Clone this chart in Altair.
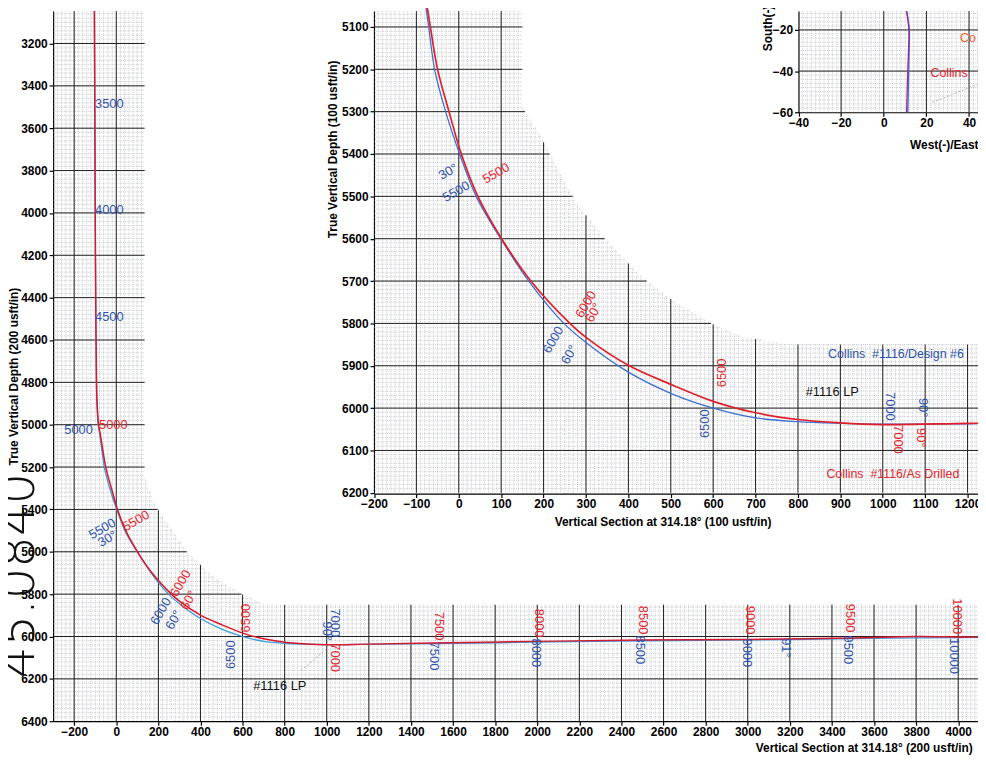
import altair as alt
import numpy as np
import pandas as pd

# ---------------- data ----------------
# well paths (vertical section, true vertical depth)
red_vs = [-104, -102, -100, -97, -94, -91, -84, -76, -67, -50, -23, 6, 45, 101, 170, 262, 300, 400, 505, 600,
          700, 800, 900, 1000, 1200, 1500, 2000, 2500, 3000, 3500, 3800, 4000, 4100]
red_tvd = [3047, 3500, 4000, 4500, 4800, 4900, 5000, 5044, 5100, 5200, 5300, 5400, 5500, 5600, 5700, 5800, 5833,
           5899, 5946, 5984, 6011, 6027, 6035, 6039, 6036, 6031, 6023, 6017, 6014, 6007, 6000, 6002, 6003]
blue_vs = [-104, -102, -100, -97, -94, -92, -86, -79, -71, -57, -31, 2, 41, 99, 165, 248, 300, 400, 500, 600,
           700, 800, 900, 1000, 1200, 1500, 2000, 2500, 3000, 3500, 4000, 4100]
blue_tvd = [3047, 3500, 4000, 4500, 4800, 4900, 5000, 5044, 5100, 5200, 5300, 5400, 5500, 5600, 5700, 5800, 5845,
            5915, 5965, 6000, 6023, 6032, 6036, 6038, 6037, 6034, 6027, 6020, 6017, 6010, 6005, 6004]

# plan view (east-west, north-south)
plan_red_ew = [10.6, 11.8, 11.6, 11.1, 10.7]
plan_red_ns = [-10.8, -20, -30, -45, -60]
plan_blue_ew = [10.8, 12.0, 11.9, 11.6, 11.3]
plan_blue_ns = [-10.8, -20, -30, -45, -60]

# main-chart labels
main_lab_text = ["3500", "4000", "4500", "5000", "5000", "5500", "30°", "5500", "6000", "60°", "6000", "60°",
                 "6500", "6500", "7000", "90°", "7000", "7500", "7500", "8000", "8000", "8500", "8500",
                 "9000", "9000", "91°", "9500", "9500", "10000", "10000"]
main_lab_vs = [-33, -33, -33, -179, -14, -66, -42, 94, 306, 344, 212, 273, 617, 547, 1040, 1000, 1040,
               1532, 1508, 2008, 1993, 2502, 2488, 3011, 2997, 3181, 3487, 3478, 3996, 3982]
main_lab_tvd = [3487, 3985, 4490, 5023, 5000, 5492, 5539, 5454, 5749, 5829, 5881, 5922, 5913, 6086, 5935, 5975,
                6100, 5951, 6092, 5937, 6077, 5923, 6063, 5923, 6077, 6054, 5913, 6063, 5904, 6092]
main_lab_col = ["b", "b", "b", "b", "r", "b", "b", "r", "r", "r", "b", "b", "r", "b", "b", "b", "r",
                "r", "b", "r", "b", "r", "b", "r", "b", "b", "r", "b", "r", "b"]
main_lab_ang = [0, 0, 0, 0, 0, 330, 330, 330, 300, 300, 300, 300, 270, 270, 90, 90, 90,
                90, 90, 90, 90, 90, 90, 90, 90, 90, 90, 90, 90, 90]

# inset labels
ins_lab_text = ["30°", "5500", "5500", "6000", "60°", "6000", "60°", "6500", "6500", "7000", "90°", "7000", "90°"]
ins_lab_vs = [-25, -6, 88, 300, 318, 223, 261, 620, 581, 1016, 1094, 1035, 1089]
ins_lab_tvd = [5442, 5489, 5446, 5755, 5775, 5839, 5874, 5917, 6037, 5996, 5999, 6074, 6070]
ins_lab_col = ["b", "b", "r", "r", "r", "b", "b", "r", "b", "b", "b", "r", "r"]
ins_lab_ang = [330, 330, 330, 300, 300, 300, 300, 270, 270, 90, 90, 90, 90]

ins_cap_text = ["Collins\u00a0\u00a0#1116/Design #6", "Collins\u00a0\u00a0#1116/As Drilled"]
ins_cap_vs = [871, 867]
ins_cap_tvd = [5873, 6156]
ins_cap_col = ["b", "r"]

# grid band outlines
main_edge_vs = [135, 190, 335, 450, 595, 706, 4094]
main_edge_tvd = [5250, 5390, 5600, 5710, 5800, 5850, 5850]
ins_edge_vs = [150, 190, 235, 280, 344, 430, 510, 595, 665, 773, 1225]
ins_edge_tvd = [5290, 5353, 5440, 5520, 5600, 5690, 5750, 5800, 5831, 5850, 5850]

RED_T = "#e3262e"
BLUE_T = "#2f52ad"
COLS = {"r": RED_T, "b": BLUE_T, "k": "#111111"}

# ---------------- layout ----------------
W, H = 932.5, 716
MAIN_X = [-300, 4094]
MAIN_Y = [3047, 6400]
INS_X = [-200, 1224.6]
INS_Y = [5062.5, 6200]
PLAN_X = [-40, 44.2]
PLAN_Y = [-60, -10.84]

main_xs = alt.Scale(domain=MAIN_X, range=[0, W], nice=False, zero=False)
main_ys = alt.Scale(domain=MAIN_Y, range=[0, H], nice=False, zero=False)
ins_xs = alt.Scale(domain=INS_X, range=[323.5, W], nice=False, zero=False)
ins_ys = alt.Scale(domain=INS_Y, range=[0, 485.7], nice=False, zero=False)
plan_xs = alt.Scale(domain=PLAN_X, range=[751.5, W], nice=False, zero=False)
plan_ys = alt.Scale(domain=PLAN_Y, range=[102, 0], nice=False, zero=False)

common_ax = dict(grid=False, labelFlush=False, labelOverlap=False, tickSize=4, domainWidth=1.2,
                 tickWidth=1.2, format="d")

main_xaxis = alt.Axis(values=list(range(-200, 4001, 200)), orient="bottom",
                      title="Vertical Section at 314.18° (200 usft/in)", titleAlign="left",
                      titleX=708, titleY=27, titleBaseline="middle", labelPadding=1, **common_ax)
main_yaxis = alt.Axis(values=list(range(3200, 6401, 200)), orient="left",
                      title="True Vertical Depth (200 usft/in)", titleAngle=270, titleX=-33, titleY=368,
                      titleAlign="center", titleBaseline="bottom", labelPadding=2, **common_ax)
ins_xaxis = alt.Axis(values=list(range(-200, 1201, 100)), orient="bottom", offset=-229.5,
                     title="Vertical Section at 314.18° (100 usft/in)", titleAlign="center",
                     titleX=614.5, titleY=28.5, titleBaseline="middle", labelPadding=1, **common_ax)
ins_yaxis = alt.Axis(values=list(range(5100, 6201, 100)), orient="left", offset=-323.5,
                     title="True Vertical Depth (100 usft/in)", titleAngle=270, titleX=-34.5, titleY=139,
                     titleAlign="center", titleBaseline="bottom", labelPadding=2, **common_ax)
plan_xaxis = alt.Axis(values=[-40, -20, 0, 20, 40], orient="bottom", offset=-614,
                      title="West(-)/East(+) (40 usft/in)", titleAlign="left", titleX=863.5, titleY=33,
                      titleBaseline="middle", labelPadding=1, **common_ax)
plan_yaxis = alt.Axis(values=[-60, -40, -20], orient="left", offset=-751.5,
                      title="South(-)/North(+) (40 usft/in)", titleAngle=270, titleX=-24, titleY=40,
                      titleAlign="left", titleBaseline="bottom", labelPadding=2, **common_ax)


def grid_df(xvals, yvals, top_fn, right_fn, x0, ybot):
    rows = []
    for v in xvals:
        rows.append((v, top_fn(v), v, ybot))
    for w in yvals:
        rows.append((x0, w, right_fn(w), w))
    return pd.DataFrame(rows, columns=["x", "y", "x2", "y2"])


def make_top(edge_x, edge_y, ytop):
    def f(v):
        if v < edge_x[0]:
            return ytop
        return float(np.interp(v, edge_x, edge_y))
    return f


def make_right(edge_x, edge_y, xmax):
    def f(w):
        if w < edge_y[0]:
            return edge_x[0]
        if w >= edge_y[-1]:
            return xmax
        return float(np.interp(w, edge_y[:-1], edge_x[:-1]))
    return f


main_top = make_top(main_edge_vs, main_edge_tvd, MAIN_Y[0])
main_right = make_right(main_edge_vs, main_edge_tvd, MAIN_X[1])
ins_top = make_top(ins_edge_vs, ins_edge_tvd, INS_Y[0])
ins_right = make_right(ins_edge_vs, ins_edge_tvd, INS_X[1])

main_minor = grid_df(range(-280, 4094, 20), range(3060, 6400, 20), main_top, main_right, MAIN_X[0], MAIN_Y[1])
main_major = grid_df(range(-200, 4094, 200), range(3200, 6400, 200), main_top, main_right, MAIN_X[0], MAIN_Y[1])
ins_minor = grid_df(range(-190, 1225, 10), range(5070, 6200, 10), ins_top, ins_right, INS_X[0], INS_Y[1])
ins_major = grid_df(range(-100, 1225, 100), range(5100, 6200, 100), ins_top, ins_right, INS_X[0], INS_Y[1])
plan_minor = grid_df(range(-38, 45, 2), range(-58, -10, 2), lambda v: PLAN_Y[1], lambda w: PLAN_X[1],
                     PLAN_X[0], PLAN_Y[0])
plan_major = grid_df([-20, 0, 20, 40], [-40, -20], lambda v: PLAN_Y[1], lambda w: PLAN_X[1],
                     PLAN_X[0], PLAN_Y[0])


def path_df(xs, ys):
    return pd.DataFrame({"x": xs, "y": ys, "i": list(range(len(xs)))})


def lab_df(t, xs, ys, cs, angs):
    return pd.DataFrame({"t": t, "x": xs, "y": ys, "c": [COLS[c] for c in cs], "a": angs})


def group(xs, ys, xaxis, yaxis, minor, major, paths, texts, extra=()):
    X = alt.X("x:Q", scale=xs, axis=xaxis)
    Y = alt.Y("y:Q", scale=ys, axis=yaxis)
    layers = []
    layers.append(alt.Chart(minor).mark_rule(color="#8a9099", strokeWidth=0.55, strokeDash=[1, 1.2],
                                             opacity=0.9).encode(x=X, y=Y, x2="x2:Q", y2="y2:Q"))
    layers.append(alt.Chart(major).mark_rule(color="#1e1e1e", strokeWidth=1.0).encode(
        x=X, y=Y, x2="x2:Q", y2="y2:Q"))
    layers.extend(extra_l(X, Y) for extra_l in extra)
    for df, col, wdt in paths:
        layers.append(alt.Chart(df).mark_line(color=col, strokeWidth=wdt, interpolate="catmull-rom").encode(
            x=X, y=Y, order="i:Q"))
    for df, size, align in texts:
        layers.append(alt.Chart(df).mark_text(font="Liberation Sans", fontSize=size, align=align,
                                              baseline="middle").encode(
            x=X, y=Y, text="t:N", color=alt.Color("c:N", scale=None), angle=alt.Angle("a:Q", scale=None)))
    return alt.layer(*layers)


# main chart
main_labels = lab_df(main_lab_text, main_lab_vs, main_lab_tvd, main_lab_col, main_lab_ang)
main_lp = lab_df(["#1116 LP"], [777], [6232], ["k"], [0])
main_leader = path_df([877, 1004], [6162, 6054])
hand = lab_df(["45.0840"], [-462], [5712], ["k"], [270])


def main_leader_layer(X, Y):
    return alt.Chart(main_leader).mark_line(color="#9a9a9a", strokeWidth=0.8, strokeDash=[2, 2]).encode(
        x=X, y=Y, order="i:Q")


def hand_layer(X, Y):
    return alt.Chart(hand).mark_text(font="DejaVu Sans", fontSize=50, fontWeight=300, align="center",
                                     baseline="middle").encode(
        x=X, y=Y, text="t:N", color=alt.Color("c:N", scale=None), angle=alt.Angle("a:Q", scale=None))


main_group = group(main_xs, main_ys, main_xaxis, main_yaxis, main_minor, main_major,
                   [(path_df(blue_vs, blue_tvd), "#3c9bd8", 1.3), (path_df(red_vs, red_tvd), "#d8182c", 1.5)],
                   [(main_labels, 13, "center"), (main_lp, 13, "center")],
                   extra=(main_leader_layer, hand_layer))

# inset
ins_labels = lab_df(ins_lab_text, ins_lab_vs, ins_lab_tvd, ins_lab_col, ins_lab_ang)
ins_lp = lab_df(["#1116 LP"], [881], [5963], ["k"], [0])
ins_caps = lab_df(ins_cap_text, ins_cap_vs, ins_cap_tvd, ins_cap_col, [0, 0])
ins_group = group(ins_xs, ins_ys, ins_xaxis, ins_yaxis, ins_minor, ins_major,
                  [(path_df(blue_vs, blue_tvd), "#3d6fd1", 1.3), (path_df(red_vs, red_tvd), "#e01f2b", 1.7)],
                  [(ins_labels, 13, "center"), (ins_lp, 13, "center"), (ins_caps, 12.5, "left")])

# plan view
plan_caps = pd.DataFrame({"t": ["Collins", "Co"], "x": [21.9, 35.8], "y": [-41.1, -23.9],
                          "c": [RED_T, "#f0602e"], "a": [0, 0]})
plan_leader = path_df([22.8, 44], [-55.2, -46.4])


def plan_leader_layer(X, Y):
    return alt.Chart(plan_leader).mark_line(color="#9a9a9a", strokeWidth=0.8, strokeDash=[2, 2]).encode(
        x=X, y=Y, order="i:Q")


plan_group = group(plan_xs, plan_ys, plan_xaxis, plan_yaxis, plan_minor, plan_major,
                   [(path_df(plan_blue_ew, plan_blue_ns), "#3d6fd1", 1.3),
                    (path_df(plan_red_ew, plan_red_ns), "#9b2a8a", 1.3)],
                   [(plan_caps, 12.5, "left")], extra=(plan_leader_layer,))

chart = alt.layer(main_group, ins_group, plan_group).resolve_scale(
    x="independent", y="independent").resolve_axis(x="independent", y="independent").properties(
    width=W, height=H, padding={"left": 45.5, "top": 0, "right": 0, "bottom": 36},
    autosize=alt.AutoSizeParams(type="none"), background="white"
).configure_axis(
    labelFont="Liberation Sans", labelFontWeight="bold", labelFontSize=12, labelColor="black",
    titleFont="Liberation Sans", titleFontWeight="bold", titleFontSize=12, titleColor="black",
    domainColor="black", tickColor="black"
).configure_view(stroke=None)

chart.save("out.html", embed_options={"renderer": "svg", "actions": False})
